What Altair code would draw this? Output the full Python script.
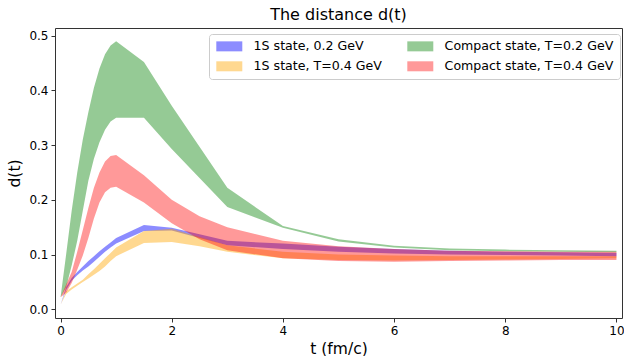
import altair as alt
import pandas as pd

t = [0.0, 0.1, 0.2, 0.3, 0.4, 0.5, 0.6, 0.7, 0.8, 0.9, 1.0, 1.5, 2.0, 2.5, 3.0, 4.0, 5.0, 6.0, 7.0, 8.0, 9.0, 10.0]

s1_02_hi = [0.008, 0.040, 0.057, 0.068, 0.078, 0.088, 0.097, 0.106, 0.114, 0.122, 0.130, 0.154, 0.149, 0.137, 0.125, 0.120, 0.114, 0.110, 0.107, 0.105, 0.104, 0.103]
s1_02_lo = [0.008, 0.035, 0.052, 0.062, 0.071, 0.078, 0.087, 0.096, 0.105, 0.113, 0.120, 0.143, 0.144, 0.130, 0.117, 0.110, 0.105, 0.102, 0.100, 0.099, 0.098, 0.097]

s1_04_hi = [0.008, 0.033, 0.040, 0.047, 0.054, 0.064, 0.073, 0.083, 0.093, 0.103, 0.113, 0.143, 0.147, 0.132, 0.117, 0.105, 0.100, 0.098, 0.097, 0.097, 0.097, 0.097]
s1_04_lo = [0.008, 0.028, 0.036, 0.043, 0.050, 0.056, 0.063, 0.070, 0.078, 0.088, 0.097, 0.121, 0.123, 0.115, 0.105, 0.093, 0.090, 0.089, 0.090, 0.091, 0.092, 0.093]

c_02_hi = [0.022, 0.100, 0.180, 0.250, 0.310, 0.360, 0.405, 0.440, 0.466, 0.482, 0.490, 0.452, 0.372, 0.297, 0.222, 0.152, 0.128, 0.116, 0.111, 0.109, 0.108, 0.107]
c_02_lo = [0.022, 0.040, 0.080, 0.125, 0.180, 0.235, 0.275, 0.305, 0.328, 0.343, 0.350, 0.350, 0.293, 0.240, 0.187, 0.149, 0.124, 0.113, 0.108, 0.106, 0.105, 0.104]

c_04_hi = [0.022, 0.045, 0.068, 0.105, 0.145, 0.185, 0.222, 0.250, 0.270, 0.280, 0.282, 0.245, 0.200, 0.170, 0.150, 0.125, 0.115, 0.110, 0.107, 0.106, 0.105, 0.105]
c_04_lo = [0.022, 0.030, 0.048, 0.072, 0.098, 0.130, 0.166, 0.195, 0.214, 0.222, 0.224, 0.195, 0.157, 0.128, 0.108, 0.093, 0.088, 0.087, 0.088, 0.089, 0.090, 0.090]

names = ["1S state, 0.2 GeV", "1S state, T=0.4 GeV", "Compact state, T=0.2 GeV", "Compact state, T=0.4 GeV"]
colors = ["#0000ff", "#ffa500", "#008000", "#ff0000"]
opac = [0.45, 0.40, 0.36, 0.48]
bands = [(s1_02_lo, s1_02_hi), (s1_04_lo, s1_04_hi), (c_02_lo, c_02_hi), (c_04_lo, c_04_hi)]

rows = []
for name, (lo, hi) in zip(names, bands):
    for ti, l, h in zip(t, lo, hi):
        rows.append({"series": name, "t": ti, "lo": l, "hi": h})
df = pd.DataFrame(rows)

FONT = "DejaVu Sans"

xscale = alt.Scale(domain=[-0.1, 10.1], nice=False, zero=False)
yscale = alt.Scale(domain=[-0.016, 0.514], nice=False, zero=False)

legend = alt.Legend(
    title=None, orient="none", legendX=154, legendY=6, columns=2,
    columnPadding=24, rowPadding=7, labelOffset=26, labelLimit=400,
    values=names,
    symbolType="M-1,-1L4.2,-1L4.2,1L-1,1Z", symbolSize=100, symbolStrokeWidth=0,
    labelFont=FONT, labelFontSize=12.6, labelColor="#000000",
    padding=6, strokeColor="#cccccc", fillColor="rgba(255,255,255,0.8)", cornerRadius=3,
)

layers = []
for name in names:
    layers.append(
        alt.Chart(df)
        .transform_filter(alt.datum.series == name)
        .mark_area(strokeWidth=0)
        .encode(
            x=alt.X("t:Q", scale=xscale,
                    axis=alt.Axis(values=[0, 2, 4, 6, 8, 10], format="d", title="t (fm/c)")),
            y=alt.Y("lo:Q", scale=yscale,
                    axis=alt.Axis(values=[0, 0.1, 0.2, 0.3, 0.4, 0.5], format=".1f", title="d(t)")),
            y2="hi:Q",
            color=alt.Color("series:N", scale=alt.Scale(domain=names, range=colors), legend=legend),
            opacity=alt.Opacity("series:N", scale=alt.Scale(domain=names, range=opac), legend=legend),
        )
    )

chart = (
    alt.layer(*layers)
    .properties(
        width=567, height=290,
        title=alt.TitleParams("The distance d(t)", font=FONT, fontSize=16, fontWeight="normal",
                              color="#000000", anchor="middle", offset=5),
        autosize=alt.AutoSizeParams(type="none"),
        padding={"left": 55, "top": 28, "right": 2, "bottom": 38},
    )
    .configure_view(stroke="#333333", strokeWidth=1)
    .configure_axis(
        domain=False, grid=False, ticks=True, tickSize=4, tickColor="#333333",
        labelFont=FONT, labelFontSize=12, labelColor="#000000", labelPadding=3,
        titleFont=FONT, titleFontSize=15.5, titleFontWeight="normal", titleColor="#000000",
    )
    .configure_axisY(titlePadding=6)
    .configure_axisX(titlePadding=5)
)

chart.save("out.html", embed_options={"renderer": "svg", "actions": False})
